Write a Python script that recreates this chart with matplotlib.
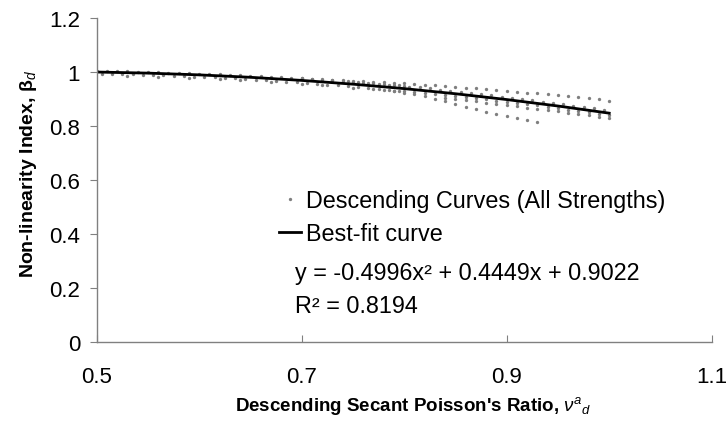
import matplotlib
matplotlib.use("Agg")
import matplotlib.pyplot as plt

plt.rcParams['font.family'] = ['Liberation Sans', 'DejaVu Sans']
plt.rcParams['mathtext.fontset'] = 'custom'
plt.rcParams['mathtext.rm'] = 'Liberation Sans'
plt.rcParams['mathtext.it'] = 'Liberation Sans:italic'
plt.rcParams['mathtext.bf'] = 'Liberation Sans:bold'

# scatter data (several descending curves)
band_hi_x = [0.50, 0.51, 0.52, 0.53, 0.54, 0.55, 0.56, 0.57, 0.58, 0.59, 0.60,
             0.61, 0.62, 0.63, 0.64, 0.65, 0.66, 0.67, 0.68, 0.69, 0.70, 0.71,
             0.72, 0.73, 0.74, 0.75, 0.76, 0.77, 0.78, 0.79, 0.80]
band_hi_y = [1.004, 1.003, 1.002, 1.003, 1.001, 1.000, 0.999, 0.998, 0.998, 0.995, 0.994,
             0.993, 0.991, 0.990, 0.988, 0.986, 0.984, 0.982, 0.980, 0.978, 0.976, 0.974,
             0.972, 0.969, 0.966, 0.963, 0.961, 0.958, 0.955, 0.952, 0.949]

band_lo_x = [0.505, 0.515, 0.525, 0.535, 0.545, 0.555, 0.565, 0.575, 0.585, 0.595,
             0.605, 0.615, 0.625, 0.635, 0.645, 0.655, 0.665, 0.675, 0.685, 0.695,
             0.705, 0.715, 0.725, 0.735, 0.745, 0.755, 0.765, 0.775, 0.785, 0.795]
band_lo_y = [0.994, 0.993, 0.992, 0.991, 0.989, 0.990, 0.987, 0.986, 0.984, 0.983,
             0.981, 0.980, 0.977, 0.976, 0.974, 0.972, 0.969, 0.967, 0.964, 0.962,
             0.959, 0.956, 0.953, 0.950, 0.947, 0.944, 0.941, 0.937, 0.934, 0.930]

band_lo2_x = [0.53, 0.56, 0.59, 0.62, 0.64, 0.67, 0.70, 0.72, 0.75, 0.77, 0.79]
band_lo2_y = [0.985, 0.982, 0.978, 0.973, 0.969, 0.963, 0.956, 0.951, 0.942, 0.936, 0.929]

upper_x = [0.70, 0.71, 0.72, 0.73, 0.74, 0.75, 0.76, 0.77, 0.78, 0.79, 0.80,
           0.81, 0.82, 0.83, 0.84, 0.85, 0.86, 0.87, 0.88, 0.89, 0.90, 0.91,
           0.92, 0.93, 0.94, 0.95, 0.96, 0.97, 0.98, 0.99, 1.00]
upper_y = [0.977, 0.975, 0.973, 0.971, 0.969, 0.967, 0.966, 0.964, 0.962, 0.960, 0.958,
           0.955, 0.953, 0.950, 0.948, 0.945, 0.942, 0.939, 0.936, 0.933, 0.930, 0.927,
           0.924, 0.921, 0.918, 0.915, 0.911, 0.907, 0.903, 0.899, 0.894]

upper2_x = [0.745, 0.755, 0.765, 0.775, 0.785, 0.795, 0.805, 0.815, 0.825, 0.835,
            0.845, 0.855, 0.865, 0.875, 0.885, 0.895, 0.905, 0.915, 0.925, 0.935,
            0.945, 0.955, 0.965, 0.975, 0.985, 0.995]
upper2_y = [0.965, 0.962, 0.959, 0.956, 0.953, 0.950, 0.946, 0.943, 0.939, 0.935,
            0.931, 0.927, 0.923, 0.918, 0.914, 0.909, 0.905, 0.900, 0.895, 0.890,
            0.885, 0.880, 0.875, 0.870, 0.865, 0.859]

near_x = [0.80, 0.81, 0.82, 0.83, 0.84, 0.85, 0.86, 0.87, 0.88, 0.89, 0.90,
          0.91, 0.92, 0.93, 0.94, 0.95, 0.96, 0.97, 0.98, 0.99, 1.00]
near_y = [0.930, 0.927, 0.923, 0.919, 0.915, 0.911, 0.907, 0.903, 0.899, 0.894, 0.890,
          0.885, 0.881, 0.876, 0.871, 0.866, 0.861, 0.856, 0.850, 0.845, 0.839]

mid_x = [0.84, 0.85, 0.86, 0.87, 0.88, 0.89, 0.90, 0.91, 0.92, 0.93, 0.94,
         0.95, 0.96, 0.97, 0.98, 0.99, 1.00]
mid_y = [0.905, 0.900, 0.895, 0.891, 0.887, 0.882, 0.878, 0.873, 0.868, 0.864, 0.859,
         0.854, 0.849, 0.844, 0.839, 0.834, 0.828]

low_x = [0.78, 0.79, 0.80, 0.81, 0.82, 0.83, 0.84, 0.85, 0.86, 0.87, 0.88,
         0.89, 0.90, 0.91, 0.92, 0.93]
low_y = [0.935, 0.930, 0.924, 0.918, 0.911, 0.900, 0.892, 0.882, 0.872, 0.862, 0.852,
         0.844, 0.837, 0.830, 0.823, 0.816]

# best-fit curve y = -0.4996x^2 + 0.4449x + 0.9022
fit_x = [0.50, 0.55, 0.60, 0.65, 0.70, 0.75, 0.80, 0.85, 0.90, 0.95, 1.00]
fit_y = [0.9998, 0.9958, 0.9893, 0.9803, 0.9688, 0.9549, 0.9384, 0.9194, 0.8979, 0.8740, 0.8475]

xticks = [0.5, 0.7, 0.9, 1.1]
xtick_labels = ['0.5', '0.7', '0.9', '1.1']
yticks = [0, 0.2, 0.4, 0.6, 0.8, 1, 1.2]
ytick_labels = ['0', '0.2', '0.4', '0.6', '0.8', '1', '1.2']

fig = plt.figure(figsize=(7.27, 4.31), dpi=100)
ax = fig.add_axes([0.133, 0.204, 0.846, 0.752])

all_x = band_hi_x + band_lo_x + band_lo2_x + upper_x + upper2_x + near_x + mid_x + low_x
all_y = band_hi_y + band_lo_y + band_lo2_y + upper_y + upper2_y + near_y + mid_y + low_y
ax.plot(all_x, all_y, linestyle='none', marker='o', markersize=2.4, color='#7f7f7f',
        markeredgewidth=0, label='Descending Curves (All Strengths)')
ax.plot(fit_x, fit_y, color='black', linewidth=2.0, label='Best-fit curve')

ax.set_xlim(0.5, 1.1)
ax.set_ylim(0, 1.2)
ax.set_xticks(xticks)
ax.set_xticklabels(xtick_labels)
ax.set_yticks(yticks)
ax.set_yticklabels(ytick_labels)

for s in ['top', 'right']:
    ax.spines[s].set_visible(False)
for s in ['left', 'bottom']:
    ax.spines[s].set_color('#808080')
    ax.spines[s].set_linewidth(1.0)
ax.tick_params(axis='x', direction='in', length=5, color='#808080', labelsize=16, pad=17)
ax.tick_params(axis='y', direction='out', length=5, color='#808080', labelsize=16, pad=7)

ax.set_xlabel(r"Descending Secant Poisson's Ratio, $\nu^{a}{}_{d}$", fontsize=13.5, fontweight='bold')
ax.set_ylabel(r"Non-linearity Index, β$_{d}$", fontsize=14, fontweight='bold')
ax.xaxis.set_label_coords(0.515, -0.161)
ax.yaxis.set_label_coords(-0.094, 0.522)

ax.legend(loc='upper left', bbox_to_anchor=(0.281, 0.50), frameon=False, fontsize=16.8,
          handlelength=0.95, handletextpad=0.2, labelspacing=0.42, markerscale=1.0,
          borderaxespad=0)

ax.text(0.322, 0.215, 'y = -0.4996x² + 0.4449x + 0.9022', transform=ax.transAxes,
        fontsize=16.8, va='center', ha='left')
ax.text(0.322, 0.113, 'R² = 0.8194', transform=ax.transAxes,
        fontsize=16.8, va='center', ha='left')

fig.savefig('out.png', dpi=100)
